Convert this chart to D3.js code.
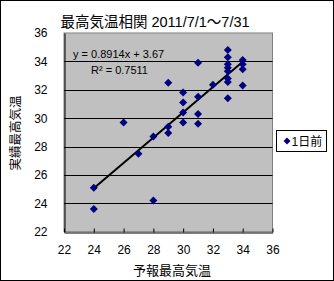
<!DOCTYPE html>
<html>
<head>
<meta charset="utf-8">
<script src="https://cdn.jsdelivr.net/npm/d3@7"></script>
<style>
  body { margin: 0; background: #fff; }
  svg text { font-family: "Liberation Sans", "Noto Sans CJK JP", sans-serif; fill: #000; }
</style>
</head>
<body>
<div id="chart"></div>
<script>
// forecast max temp (x) vs observed max temp (y), July 2011
let forecast = [24, 24, 26, 27, 28, 28, 29, 29, 29, 30, 30, 30, 30, 31, 31, 31, 31, 32,
  33, 33, 33, 33, 33, 33, 33, 33, 34, 34, 34, 34];
let observed = [25.1, 23.6, 29.7, 27.5, 28.7, 24.2, 32.5, 29.4, 28.95, 31.8, 31.1, 30.4, 29.7,
  33.9, 31.5, 30.3, 29.6, 32.35, 34.8, 34.3, 33.8, 33.55, 33.3, 32.8, 32.55, 31.4,
  34.1, 33.8, 33.45, 32.3];
let tickValues = [22, 24, 26, 28, 30, 32, 34, 36];
let trend = { slope: 0.8914, intercept: 3.67, r2: 0.7511 };
let seriesName = "1日前";

let width = 334, height = 281;
let plot = { left: 64, right: 272.5, top: 33, bottom: 231.7 };

let svg = d3.select("#chart").append("svg")
  .attr("width", width)
  .attr("height", height);

// outer frame
svg.append("rect")
  .attr("x", 0.5).attr("y", 0.5)
  .attr("width", width - 1).attr("height", height - 1)
  .attr("fill", "#fff").attr("stroke", "#000");

let x = d3.scaleLinear().domain([22, 36]).range([plot.left, plot.right]);
let y = d3.scaleLinear().domain([22, 36]).range([plot.bottom, plot.top]);

// plot area
svg.append("rect")
  .attr("x", plot.left).attr("y", plot.top)
  .attr("width", plot.right - plot.left).attr("height", plot.bottom - plot.top)
  .attr("fill", "#c0c0c0").attr("stroke", "#808080");

// horizontal gridlines
svg.selectAll(".grid").data(tickValues.slice(1, -1))
  .enter().append("line")
  .attr("x1", plot.left).attr("x2", plot.right)
  .attr("y1", (d) => Math.round(y(d)) + 0.5).attr("y2", (d) => Math.round(y(d)) + 0.5)
  .attr("stroke", "#000");

// axes
let xAxis = d3.axisBottom(x).tickValues(tickValues).tickSizeInner(-4).tickSizeOuter(0).tickPadding(14);
let gx = svg.append("g")
  .attr("transform", "translate(0," + (Math.round(plot.bottom) + 0.5) + ")")
  .call(xAxis);
gx.select(".domain").attr("stroke", "#000");
gx.selectAll(".tick text").style("font-size", "12px").attr("dy", "0.6em");

let yAxis = d3.axisLeft(y).tickValues(tickValues).tickSize(0).tickPadding(17);
let gy = svg.append("g")
  .attr("transform", "translate(" + (plot.left + 0.5) + ",0)")
  .call(yAxis);
gy.select(".domain").attr("stroke", "#000");
gy.selectAll(".tick text").style("font-size", "12px");

// trendline over data range
let xMin = d3.min(forecast), xMax = d3.max(forecast);
svg.append("line")
  .attr("x1", x(xMin)).attr("y1", y(trend.slope * xMin + trend.intercept))
  .attr("x2", x(xMax)).attr("y2", y(trend.slope * xMax + trend.intercept))
  .attr("stroke", "#000").attr("stroke-width", 2);

// markers
let diamond = "M0,-4L4,0L0,4L-4,0Z";
svg.selectAll(".pt").data(forecast.map((d, i) => [d, observed[i]]))
  .enter().append("path")
  .attr("d", diamond)
  .attr("transform", (d) => "translate(" + x(d[0]) + "," + y(d[1]) + ")")
  .attr("fill", "#000080");

// equation labels
svg.append("text")
  .attr("x", 73).attr("y", 58)
  .style("font-size", "11px")
  .text("y = " + trend.slope + "x + " + trend.intercept);
svg.append("text")
  .attr("x", 91).attr("y", 74)
  .style("font-size", "11px")
  .text("R² = " + trend.r2);

// titles
svg.append("text")
  .attr("x", 155).attr("y", 27)
  .attr("text-anchor", "middle")
  .style("font-size", "14.5px")
  .text("最高気温相関 2011/7/1～7/31");

svg.append("text")
  .attr("x", 172).attr("y", 275)
  .attr("text-anchor", "middle")
  .style("font-size", "13px")
  .text("予報最高気温");

svg.append("text")
  .attr("transform", "translate(20,133) rotate(-90)")
  .attr("text-anchor", "middle")
  .style("font-size", "12.5px")
  .text("実績最高気温");

// legend
let legend = svg.append("g").attr("transform", "translate(276.5,130.5)");
legend.append("rect")
  .attr("width", 50).attr("height", 21)
  .attr("fill", "#fff").attr("stroke", "#000");
legend.append("path")
  .attr("d", "M0,-3.5L3.5,0L0,3.5L-3.5,0Z")
  .attr("transform", "translate(10.5,10.5)")
  .attr("fill", "#000080");
legend.append("text")
  .attr("x", 15).attr("y", 15)
  .style("font-size", "12px")
  .text(seriesName);
</script>
</body>
</html>
